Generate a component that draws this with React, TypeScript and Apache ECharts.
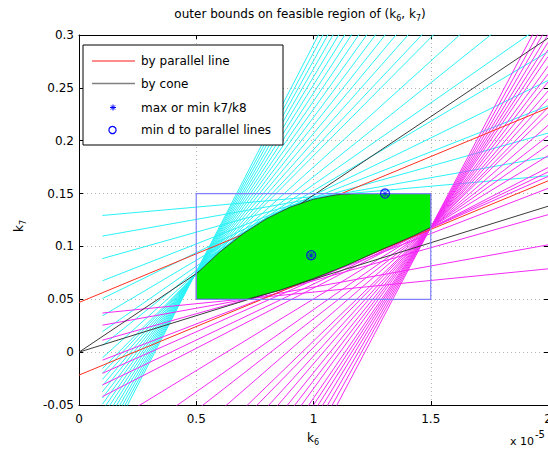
import React, { useEffect, useRef } from "react";
import * as echarts from "echarts";

// ---- axes ----
const xTicks = [0, 0.5, 1, 1.5, 2];
const xTickLabels = ["0", "0.5", "1", "1.5", "2"];
const yTicks = [-0.05, 0, 0.05, 0.1, 0.15, 0.2, 0.25, 0.3];
const yTickLabels = ["-0.05", "0", "0.05", "0.1", "0.15", "0.2", "0.25", "0.3"];

// ---- constraint line families, drawn from k6 = 0.1 to k6 = 2 (x 1e-5) ----
const familyK6 = [0.1, 2];
const cyanStartK7 = [
  0.1293, 0.1098, 0.0885, 0.0675, 0.0507, 0.0343, 0.0194, 0.0062, -0.0054, -0.0155,
  -0.02, -0.0258, -0.0317, -0.0375, -0.0434, -0.0492, -0.0551, -0.0609, -0.0668,
  -0.0726, -0.0785, -0.0843, -0.0902, -0.096,
];
const cyanEndK7 = [
  0.1668, 0.1847, 0.2072, 0.233, 0.2569, 0.2841, 0.313, 0.3435, 0.3756, 0.4094,
  0.4266, 0.4492, 0.4719, 0.4945, 0.5172, 0.5398, 0.5625, 0.5851, 0.6078,
  0.6304, 0.6531, 0.6757, 0.6984, 0.721,
];
const magentaStartK7 = [
  0.037, 0.0255, 0.0113, -0.0076, -0.02, -0.031, -0.042,
  -0.0717, -0.0998, -0.1242, -0.1522, -0.183, -0.1998, -0.2229, -0.2432, -0.267,
  -0.288, -0.309, -0.3342, -0.3524, -0.372, -0.393, -0.4168, -0.442, -0.47,
];
const magentaEndK7 = [
  0.0788, 0.1015, 0.13, 0.1549, 0.1662, 0.1704, 0.1746,
  0.1858, 0.1958, 0.2045, 0.2145, 0.2255, 0.2315, 0.2398, 0.247, 0.2555,
  0.263, 0.2705, 0.2795, 0.286, 0.293, 0.3005, 0.309, 0.318, 0.328,
];

// ---- bounds ----
const parallelK6 = [0, 2];
const parallelStartK7 = [0.047, -0.0217];
const parallelEndK7 = [0.231, 0.162];

const coneK6 = [0, 2];
const coneStartK7 = [0, 0];
const coneEndK7 = [0.297, 0.138];

const boxK6 = [0.5, 1.5];
const boxK7 = [0.05, 0.15];

// feasible region outline
const regionK6 = [0.5, 0.6, 0.7, 0.8, 0.9, 1.0, 1.1, 1.18, 1.5, 1.5, 1.426, 1.284, 1.14, 1.0, 0.857, 0.715, 0.5];
const regionK7 = [0.074, 0.0947, 0.1121, 0.1263, 0.1371, 0.1447, 0.1489, 0.15, 0.15, 0.118, 0.11, 0.0964, 0.082, 0.0696, 0.0586, 0.05, 0.05];

// markers
const extremeK6 = [0.99, 1.305];
const extremeK7 = [0.0917, 0.15];
const minDistK6 = [0.99, 1.305];
const minDistK7 = [0.0917, 0.15];

const FONT = "DejaVu Sans";
const STAR =
  "path://M0 4.5H10V5.5H0Z M4.5 0H5.5V10H4.5Z M1.1 0.4L9.6 8.9L8.9 9.6L0.4 1.1Z M8.9 0.4L9.6 1.1L1.1 9.6L0.4 8.9Z";

function tickLabel(ticks: number[], labels: string[]) {
  return (v: number) => {
    const i = ticks.findIndex((t) => Math.abs(t - v) < 1e-9);
    return i >= 0 ? labels[i] : "";
  };
}

function seg(x0: number, y0: number, x1: number, y1: number, color: string, width: number, z: number) {
  return {
    type: "line",
    data: [
      [x0, y0],
      [x1, y1],
    ],
    symbol: "none",
    showSymbol: false,
    lineStyle: { color, width },
    clip: true,
    silent: true,
    z,
  };
}

export default function App() {
  const ref = useRef<HTMLDivElement>(null);

  useEffect(() => {
    if (!ref.current) return;
    const chart = echarts.init(ref.current, undefined, { renderer: "svg" });

    const series: any[] = [];
    cyanStartK7.forEach((y0, i) =>
      series.push(seg(familyK6[0], y0, familyK6[1], cyanEndK7[i], "#2af2f7", 1, 2))
    );
    magentaStartK7.forEach((y0, i) =>
      series.push(seg(familyK6[0], y0, familyK6[1], magentaEndK7[i], "#f52af5", 1, 2))
    );
    parallelStartK7.forEach((y0, i) =>
      series.push(seg(parallelK6[0], y0, parallelK6[1], parallelEndK7[i], "#ff3020", 1, 2))
    );
    coneStartK7.forEach((y0, i) =>
      series.push(seg(coneK6[0], y0, coneK6[1], coneEndK7[i], "#3a3a3a", 1, 2))
    );

    series.push({
      type: "custom",
      silent: true,
      z: 3,
      data: [[0, 0]],
      renderItem: (_p: any, api: any) => ({
        type: "polygon",
        shape: { points: regionK6.map((x, i) => api.coord([x, regionK7[i]])) },
        style: { fill: "#00ee00", stroke: "#2a2a2a", lineWidth: 0.8 },
      }),
    });

    series.push({
      type: "line",
      data: [
        [boxK6[0], boxK7[0]],
        [boxK6[1], boxK7[0]],
        [boxK6[1], boxK7[1]],
        [boxK6[0], boxK7[1]],
        [boxK6[0], boxK7[0]],
      ],
      symbol: "none",
      lineStyle: { color: "#8080ff", width: 1.2 },
      silent: true,
      z: 4,
    });

    series.push({
      type: "scatter",
      data: minDistK6.map((x, i) => [x, minDistK7[i]]),
      symbol: "circle",
      symbolSize: 9,
      itemStyle: { color: "rgba(0,0,0,0)", borderColor: "#0000ff", borderWidth: 1.3 },
      silent: true,
      z: 5,
    });
    series.push({
      type: "scatter",
      data: extremeK6.map((x, i) => [x, extremeK7[i]]),
      symbol: STAR,
      symbolSize: 7,
      itemStyle: { color: "#0000ff" },
      silent: true,
      z: 6,
    });

    const axisCommon = {
      axisLine: { show: true, onZero: false, lineStyle: { color: "#000", width: 1 } },
      axisTick: { show: true, inside: true, length: 4, lineStyle: { color: "#000" } },
    };

    const legendX = 83;
    const legendY = 45;
    const rowY = [61, 83.5, 107.5, 130];
    const subRich = (size: number) => ({
      a: { fontSize: size, fontFamily: FONT, lineHeight: 16, fill: "#000" },
      s: { fontSize: 8, fontFamily: FONT, lineHeight: 8, verticalAlign: "bottom", fill: "#000" },
    });
    const graphic: any[] = [
      {
        type: "rect",
        shape: { x: legendX, y: legendY, width: 200, height: 100 },
        style: { fill: "#fff", stroke: "#000", lineWidth: 1 },
        z: 100,
      },
      {
        type: "line",
        shape: { x1: 92, y1: rowY[0], x2: 135, y2: rowY[0] },
        style: { stroke: "#ff8c8c", lineWidth: 2 },
        z: 101,
      },
      {
        type: "line",
        shape: { x1: 92, y1: rowY[1], x2: 135, y2: rowY[1] },
        style: { stroke: "#808080", lineWidth: 1.5 },
        z: 101,
      },
      { type: "line", shape: { x1: 110, y1: rowY[2], x2: 116, y2: rowY[2] }, style: { stroke: "#0000ff", lineWidth: 1 }, z: 101 },
      { type: "line", shape: { x1: 113, y1: rowY[2] - 3, x2: 113, y2: rowY[2] + 3 }, style: { stroke: "#0000ff", lineWidth: 1 }, z: 101 },
      { type: "line", shape: { x1: 110.9, y1: rowY[2] - 2.1, x2: 115.1, y2: rowY[2] + 2.1 }, style: { stroke: "#0000ff", lineWidth: 1 }, z: 101 },
      { type: "line", shape: { x1: 115.1, y1: rowY[2] - 2.1, x2: 110.9, y2: rowY[2] + 2.1 }, style: { stroke: "#0000ff", lineWidth: 1 }, z: 101 },
      {
        type: "circle",
        shape: { cx: 112.5, cy: rowY[3], r: 3.6 },
        style: { fill: "none", stroke: "#0000ff", lineWidth: 1.2 },
        z: 101,
      },
      ...["by parallel line", "by cone", "max or min k7/k8", "min d to parallel lines"].map((t, i) => ({
        type: "text",
        x: 141,
        y: rowY[i],
        z: 101,
        style: { text: t, fontSize: 12, fontFamily: FONT, fill: "#000", align: "left", verticalAlign: "middle" },
      })),
      {
        type: "text",
        x: 300,
        y: 14,
        style: {
          text: "{a|outer bounds on feasible region of (k}{s|6}{a|, k}{s|7}{a|)}",
          rich: subRich(12),
          align: "center",
          verticalAlign: "middle",
        },
      },
      {
        type: "text",
        x: 313,
        y: 438,
        style: { text: "{a|k}{s|6}", rich: subRich(12), align: "center", verticalAlign: "middle" },
      },
      {
        type: "text",
        x: 19,
        y: 226,
        rotation: Math.PI / 2,
        style: { text: "{a|k}{s|7}", rich: subRich(12), align: "center", verticalAlign: "middle" },
      },
      {
        type: "text",
        x: 510,
        y: 441,
        style: {
          text: "{a|x 10}{p|-5}",
          rich: {
            a: { fontSize: 11, fontFamily: FONT, lineHeight: 24, fill: "#000" },
            p: { fontSize: 10, fontFamily: FONT, lineHeight: 9, verticalAlign: "top", fill: "#000", padding: [0, 0, 0, 1] },
          },
          align: "left",
          verticalAlign: "middle",
        },
      },
    ];

    chart.setOption({
      animation: false,
      backgroundColor: "#fff",
      grid: { left: 79, top: 35, width: 469, height: 370, containLabel: false, outerBoundsMode: "none" },
      xAxis: [
        {
          type: "value",
          min: 0,
          max: 2,
          interval: 0.5,
          position: "bottom",
          ...axisCommon,
          axisLabel: {
            margin: 8,
            color: "#000",
            fontSize: 12,
            fontFamily: FONT,
            showMaxLabel: true,
            showMinLabel: true,
            formatter: tickLabel(xTicks, xTickLabels),
          },
          splitLine: { show: true, lineStyle: { color: "#b4b4b4", type: [1, 3], width: 1 } },
        },
        {
          type: "value",
          min: 0,
          max: 2,
          interval: 0.5,
          position: "top",
          ...axisCommon,
          axisLabel: { show: false },
          splitLine: { show: false },
        },
      ],
      yAxis: [
        {
          type: "value",
          min: -0.05,
          max: 0.3,
          interval: 0.05,
          position: "left",
          ...axisCommon,
          axisLabel: {
            margin: 5,
            color: "#000",
            fontSize: 12,
            fontFamily: FONT,
            showMaxLabel: true,
            showMinLabel: true,
            formatter: tickLabel(yTicks, yTickLabels),
          },
          splitLine: { show: true, lineStyle: { color: "#b4b4b4", type: [1, 3], width: 1 } },
        },
        {
          type: "value",
          min: -0.05,
          max: 0.3,
          interval: 0.05,
          position: "right",
          ...axisCommon,
          axisLabel: { show: false },
          splitLine: { show: false },
        },
      ],
      series,
      graphic,
    });

    return () => chart.dispose();
  }, []);

  return (
    <div
      ref={ref}
      style={{ position: "fixed", left: 0, top: 0, width: 548, height: 450, background: "#fff" }}
    />
  );
}
